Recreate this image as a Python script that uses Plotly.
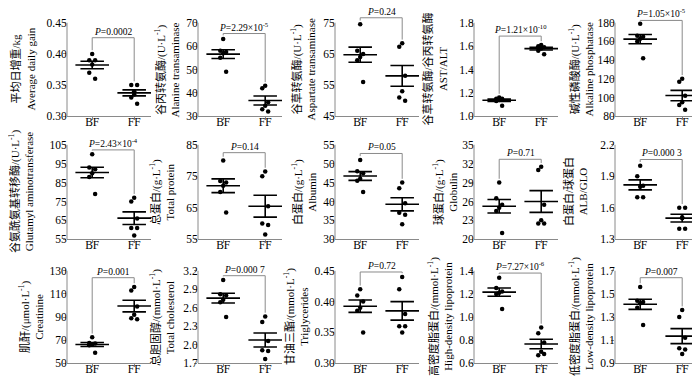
import numpy as np
import plotly.graph_objects as go

# ---------------- data ----------------
GROUPS = ["BF", "FF"]

ADG_BF = [0.400, 0.390, 0.390, 0.383, 0.370, 0.360]
ADG_FF = [0.340, 0.350, 0.350, 0.335, 0.330, 0.320]
ALT_BF = [63, 58, 57.5, 57, 55, 49]
ALT_FF = [43, 42, 36, 34.5, 33, 32]
AST_BF = [74.5, 66, 65, 64, 63, 56]
AST_FF = [68.4, 67.3, 58, 53, 51, 50]
ASTALT_BF = [1.16, 1.15, 1.15, 1.14, 1.13, 1.09]
ASTALT_FF = [1.61, 1.60, 1.59, 1.58, 1.56, 1.53]
ALP_BF = [179, 166, 165, 163, 160, 142]
ALP_FF = [120, 117, 102, 95, 92, 87]
GGT_BF = [100, 93, 92, 90, 88, 79]
GGT_FF = [77, 75, 66, 57, 61, 61]
TP_BF = [80, 73.5, 73, 72, 70, 63.5]
TP_FF = [76.5, 75, 65.5, 56.5, 60, 59.5]
ALB_BF = [51, 48, 47.5, 46, 45.5, 42.5]
ALB_FF = [45, 43.5, 39.5, 34, 37, 36.5]
GLO_BF = [29, 26.5, 25.5, 25, 24.5, 21]
GLO_FF = [31.5, 31, 25.5, 23, 22.5, 22.5]
AG_BF = [2.0, 1.9, 1.81, 1.80, 1.70, 1.70]
AG_FF = [1.51, 1.60, 1.60, 1.50, 1.40, 1.40]
CRE_BF = [72.5, 67.5, 67, 66, 65.5, 59]
CRE_FF = [116, 113, 99, 92, 89, 88]
TC_BF = [3.05, 2.82, 2.80, 2.73, 2.69, 2.45]
TC_FF = [2.46, 2.37, 2.06, 1.77, 1.91, 1.90]
TG_BF = [0.42, 0.41, 0.40, 0.39, 0.385, 0.35]
TG_FF = [0.44, 0.42, 0.38, 0.35, 0.36, 0.36]
HDL_BF = [1.34, 1.25, 1.22, 1.21, 1.20, 1.07]
HDL_FF = [0.91, 0.86, 0.78, 0.70, 0.67, 0.68]
LDL_BF = [1.56, 1.44, 1.43, 1.42, 1.38, 1.23]
LDL_FF = [1.36, 1.30, 1.12, 0.98, 1.03, 1.02]

SERIES = [
    (ADG_BF, ADG_FF), (ALT_BF, ALT_FF), (AST_BF, AST_FF), (ASTALT_BF, ASTALT_FF), (ALP_BF, ALP_FF),
    (GGT_BF, GGT_FF), (TP_BF, TP_FF), (ALB_BF, ALB_FF), (GLO_BF, GLO_FF), (AG_BF, AG_FF),
    (CRE_BF, CRE_FF), (TC_BF, TC_FF), (TG_BF, TG_FF), (HDL_BF, HDL_FF), (LDL_BF, LDL_FF),
]

P_LABELS = [
    "<i>P</i>=0.0002", "<i>P</i>=2.29×10<sup>-5</sup>", "<i>P</i>=0.24",
    "<i>P</i>=1.21×10<sup>-10</sup>", "<i>P</i>=1.05×10<sup>-5</sup>",
    "<i>P</i>=2.43×10<sup>-4</sup>", "<i>P</i>=0.14", "<i>P</i>=0.05", "<i>P</i>=0.71",
    "<i>P</i>=0.000 3",
    "<i>P</i>=0.001", "<i>P</i>=0.000 7", "<i>P</i>=0.72", "<i>P</i>=7.27×10<sup>-6</sup>",
    "<i>P</i>=0.007",
]
BRACKET_LEVEL = [0.426, 65.4, 76.6, 1.686, 182.5,
                 102.3, 82.5, 52.7, 32.7, 2.06,
                 124, 3.12, 0.448, 1.38, 1.64]

Y_TITLES_CN = [
    "平均日增重/kg", "谷丙转氨酶/(U·L<sup>-1</sup>)", "谷草转氨酶/(U·L<sup>-1</sup>)",
    "谷草转氨酶/谷丙转氨酶", "碱性磷酸酶/(U·L<sup>-1</sup>)",
    "谷氨酰氨基转移酶/(U·L<sup>-1</sup>)", "总蛋白/(g·L<sup>-1</sup>)", "白蛋白/(g·L<sup>-1</sup>)",
    "球蛋白/(g·L<sup>-1</sup>)", "白蛋白/球蛋白",
    "肌酐/(μmol·L<sup>-1</sup>)", "总胆固醇/(mmol·L<sup>-1</sup>)", "甘油三酯/(mmol·L<sup>-1</sup>)",
    "高密度脂蛋白/(mmol·L<sup>-1</sup>)", "低密度脂蛋白/(mmol·L<sup>-1</sup>)",
]
Y_TITLES_EN = [
    "Average daily gain", "Alanine transaminase", "Aspartate transaminase", "AST/ALT",
    "Alkaline phosphatase",
    "Glutamyl aminotransferase", "Total protein", "Albumin", "Globulin", "ALB/GLO",
    "Creatinine", "Total cholesterol", "Triglycerides", "High-density lipoprotein",
    "Low-density lipoprotein",
]
Y_TICKS = [
    ["0.30", "0.35", "0.40", "0.45"], ["30", "40", "50", "60", "70"], ["45", "55", "65", "75"],
    ["1.0", "1.2", "1.4", "1.6", "1.8"], ["80", "100", "120", "140", "160", "180"],
    ["55", "65", "75", "85", "95", "105"], ["55", "65", "75", "85"], ["30", "35", "40", "45", "50", "55"],
    ["20", "23", "26", "29", "32", "35"], ["1.3", "1.6", "1.9", "2.2"],
    ["50", "70", "90", "110", "130"], ["1.7", "2.0", "2.3", "2.6", "2.9", "3.2"],
    ["0.30", "0.35", "0.40", "0.45"], ["0.6", "0.8", "1.0", "1.2", "1.4"],
    ["0.9", "1.1", "1.3", "1.5", "1.7"],
]

# ---------------- layout / style ----------------
W, H = 700, 378
COL_LEFT = [59, 190, 327, 466, 607]
COL_W = 84
ROW_TICK = [(15, 110), (139, 235), (267, 361)]
EXT = 0.15
XR = [-0.6, 1.4]
JITTER = [0.0, -0.07, 0.07, 0.0, -0.07, 0.07]
MEAN_HW, SEM_HW = 0.40, 0.28
TITLE_SHIFT = [44, 31, 32, 39, 34, 46, 36, 31, 29, 40, 36, 36, 39, 34, 34]
FONT = "Liberation Serif, Noto Sans CJK SC, serif"
GRAY = "#8a8a8a"

fig = go.Figure()
layout = dict(
    width=W, height=H, margin=dict(l=0, r=0, t=0, b=0),
    paper_bgcolor="white", plot_bgcolor="white", showlegend=False,
    font=dict(family=FONT, size=11, color="black"),
)
shapes, annotations = [], []

for k, (bf, ff) in enumerate(SERIES):
    r, c = divmod(k, 5)
    sfx = "" if k == 0 else str(k + 1)
    xa, ya = "x" + sfx, "y" + sfx
    top, bot = ROW_TICK[r]
    tv = [float(s) for s in Y_TICKS[k]]
    ymin, ymax = tv[0], tv[-1]
    span = ymax - ymin

    layout["xaxis" + sfx] = dict(
        domain=[COL_LEFT[c] / W, (COL_LEFT[c] + COL_W) / W], range=XR, anchor=ya,
        tickvals=[0, 1], ticktext=GROUPS, showline=True, linecolor=GRAY, linewidth=1,
        ticks="outside", ticklen=3, tickcolor=GRAY, showgrid=False, zeroline=False,
        ticklabelstandoff=-8,
        tickfont=dict(size=11.5, family=FONT, color="black"), fixedrange=True,
    )
    layout["yaxis" + sfx] = dict(
        domain=[1 - bot / H, 1 - (top - EXT * (bot - top)) / H],
        range=[ymin, ymax + EXT * span], anchor=xa,
        tickvals=tv, ticktext=Y_TICKS[k], showline=False, ticks="outside", ticklen=3,
        tickcolor=GRAY, showgrid=False, zeroline=False, ticklabelstandoff=-6,
        tickfont=dict(size=11.5, family=FONT, color="black"), fixedrange=True,
    )

    # y axis line up to top tick
    shapes.append(dict(type="line", xref=xa + " domain", yref=ya, x0=0, x1=0,
                       y0=ymin, y1=ymax, line=dict(color=GRAY, width=1)))

    for gi, vals in enumerate((bf, ff)):
        v = np.array(vals, dtype=float)
        fig.add_trace(go.Scatter(
            x=[gi + JITTER[i % len(JITTER)] for i in range(len(v))], y=v,
            mode="markers", marker=dict(color="black", size=4.5),
            xaxis=xa, yaxis=ya, hoverinfo="skip"))
        m = v.mean()
        s = v.std(ddof=1) / np.sqrt(len(v))
        ex = [gi - MEAN_HW, gi + MEAN_HW, None,
              gi - SEM_HW, gi + SEM_HW, None,
              gi - SEM_HW, gi + SEM_HW, None,
              gi, gi]
        ey = [m, m, None, m + s, m + s, None, m - s, m - s, None, m - s, m + s]
        fig.add_trace(go.Scatter(x=ex, y=ey, mode="lines",
                                 line=dict(color="black", width=1.6),
                                 xaxis=xa, yaxis=ya, hoverinfo="skip"))

    gap = 0.04 * span
    bl = BRACKET_LEVEL[k]
    fig.add_trace(go.Scatter(x=[0, 0, 1, 1],
                             y=[max(bf) + gap, bl, bl, max(ff) + gap],
                             mode="lines", line=dict(color=GRAY, width=1),
                             xaxis=xa, yaxis=ya, hoverinfo="skip"))
    annotations.append(dict(xref=xa, yref=ya, x=0.5, y=bl, text=P_LABELS[k],
                            showarrow=False, xanchor="center", yanchor="bottom", yshift=-1,
                            font=dict(size=9.5, family=FONT, color="black")))
    annotations.append(dict(
        xref=xa + " domain", yref=ya, x=0, y=(ymin + ymax) / 2, xshift=-TITLE_SHIFT[k],
        textangle=-90, showarrow=False, xanchor="center", yanchor="middle",
        text=Y_TITLES_CN[k] + "<br>" + Y_TITLES_EN[k],
        font=dict(size=11, family=FONT, color="black")))

layout["shapes"] = shapes
layout["annotations"] = annotations
fig.update_layout(**layout)
fig.write_html("out.html")
